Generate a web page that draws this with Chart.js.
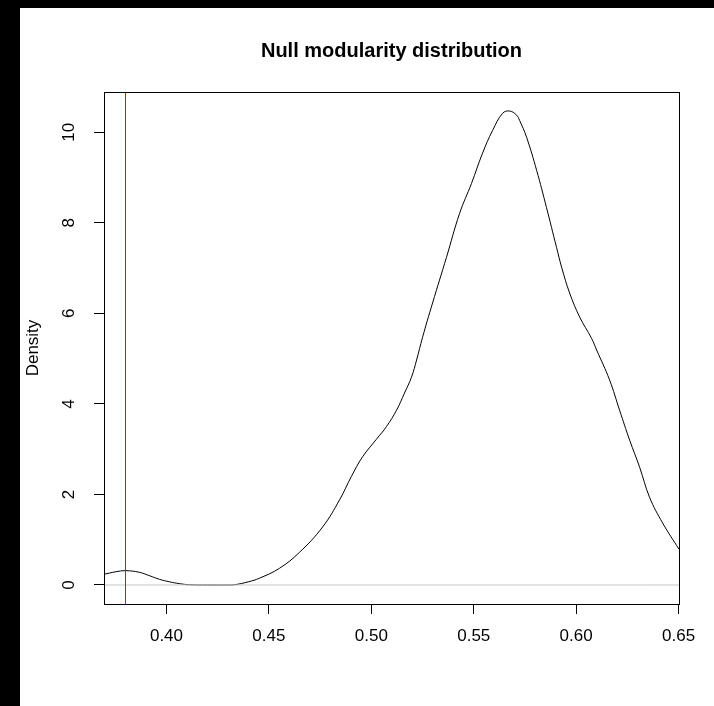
<!DOCTYPE html>
<html>
<head>
<meta charset="utf-8">
<script src="https://cdn.jsdelivr.net/npm/chart.js@4"></script>
<style>
  html, body { margin: 0; padding: 0; background: #000; width: 714px; height: 706px; overflow: hidden; }
  #wrap { position: absolute; left: 20px; top: 8px; width: 694px; height: 698px; background: #fff; }
  canvas { display: block; }
</style>
</head>
<body>
<div id="wrap"><canvas id="c" width="694" height="698"></canvas></div>
<script>
// ---- data ----
const chartTitle = 'Null modularity distribution';
const yAxisTitle = 'Density';
const observedModularity = 0.38;
const densityX = [0.3695, 0.3750, 0.3801, 0.3868, 0.3920, 0.3966, 0.4015, 0.4063, 0.4112, 0.4200, 0.4300, 0.4332,
  0.4400, 0.4454, 0.4552, 0.4649, 0.4762, 0.4845, 0.4903, 0.4957, 0.5025, 0.5074, 0.5123, 0.5162, 0.5196, 0.5221,
  0.5250, 0.5299, 0.5367, 0.5431, 0.5489, 0.5543, 0.5592, 0.5641, 0.5675, 0.5709, 0.5724, 0.5758, 0.5807, 0.5855,
  0.5904, 0.5929, 0.5968, 0.6017, 0.6075, 0.6100, 0.6163, 0.6212, 0.6261, 0.6310, 0.6358, 0.6422, 0.6502];
const densityY = [0.236, 0.29, 0.316, 0.28, 0.20, 0.125, 0.07, 0.03, 0.005, 0.0, 0.0, 0.005,
  0.07, 0.15, 0.37, 0.72, 1.28, 1.88, 2.40, 2.83, 3.22, 3.50, 3.86, 4.24, 4.59, 4.97,
  5.47, 6.23, 7.24, 8.21, 8.87, 9.54, 10.04, 10.42, 10.47, 10.38, 10.26, 9.89, 9.16, 8.34,
  7.46, 7.02, 6.45, 5.92, 5.45, 5.19, 4.53, 3.86, 3.20, 2.60, 1.94, 1.37, 0.79];
const xTicks = [0.40, 0.45, 0.50, 0.55, 0.60, 0.65];
const xTickLabels = ['0.40', '0.45', '0.50', '0.55', '0.60', '0.65'];
const yTicks = [0, 2, 4, 6, 8, 10];
const yTickLabels = ['0', '2', '4', '6', '8', '10'];
const xRange = [0.3695, 0.6502];
const yRange = [-0.42, 10.89];

// ---- chart ----
const FONT = 'Arial, "Liberation Sans", sans-serif';
const densityPoints = densityX.map((x, i) => ({ x: x, y: densityY[i] }));
const observedPoints = [{ x: observedModularity, y: yRange[0] }, { x: observedModularity, y: yRange[1] }];
const zeroPoints = [{ x: xRange[0], y: 0 }, { x: xRange[1], y: 0 }];

const boxAndTitle = {
  id: 'boxAndTitle',
  afterDraw(chart) {
    const { ctx, chartArea: a } = chart;
    ctx.save();
    ctx.strokeStyle = '#000';
    ctx.lineWidth = 1;
    ctx.strokeRect(Math.round(a.left) + 0.5, Math.round(a.top) + 0.5,
      Math.round(a.right - a.left), Math.round(a.bottom - a.top));
    ctx.fillStyle = '#000';
    ctx.font = 'bold 20px ' + FONT;
    ctx.textAlign = 'center';
    ctx.textBaseline = 'alphabetic';
    ctx.fillText(chartTitle, (a.left + a.right) / 2, 49);
    ctx.restore();
  }
};

new Chart(document.getElementById('c'), {
  type: 'scatter',
  data: {
    datasets: [
      {
        label: 'observed',
        data: observedPoints,
        showLine: true,
        borderColor: '#ff0000', backgroundColor: '#ff0000',
        borderWidth: 1, pointRadius: 0, fill: false, tension: 0, order: 0
      },
      {
        label: 'zero',
        data: zeroPoints,
        showLine: true,
        borderColor: '#c8c8c8', backgroundColor: '#c8c8c8',
        borderWidth: 1, pointRadius: 0, fill: false, tension: 0, order: 1
      },
      {
        label: 'density',
        data: densityPoints,
        showLine: true,
        borderColor: '#000000', backgroundColor: '#000000',
        borderWidth: 1, pointRadius: 0, fill: false, tension: 0.4, order: 2
      }
    ]
  },
  options: {
    responsive: false,
    animation: false,
    events: [],
    layout: { padding: { left: 0, right: 35, top: 84, bottom: 0 } },
    plugins: { legend: { display: false }, tooltip: { enabled: false }, title: { display: false } },
    scales: {
      x: {
        type: 'linear',
        min: xRange[0], max: xRange[1],
        afterFit(scale) { scale.height = 102; },
        afterBuildTicks(scale) { scale.ticks = xTicks.map(v => ({ value: v })); },
        border: { display: false },
        grid: { display: true, drawOnChartArea: false, drawTicks: true, tickLength: 10, color: '#000', lineWidth: 1 },
        ticks: {
          color: '#000', font: { family: FONT, size: 17 }, padding: 12, maxRotation: 0, autoSkip: false,
          callback: (v, i) => xTickLabels[i]
        }
      },
      y: {
        type: 'linear',
        min: yRange[0], max: yRange[1],
        afterFit(scale) { scale.width = 84; },
        afterBuildTicks(scale) { scale.ticks = yTicks.map(v => ({ value: v })); },
        border: { display: false },
        grid: { display: true, drawOnChartArea: false, drawTicks: true, tickLength: 10, color: '#000', lineWidth: 1 },
        ticks: {
          color: '#000', font: { family: FONT, size: 17 }, padding: 15, minRotation: 90, maxRotation: 90,
          crossAlign: 'center', autoSkip: false,
          callback: (v, i) => yTickLabels[i]
        },
        title: { display: true, text: yAxisTitle, color: '#000', font: { family: FONT, size: 17 }, padding: { top: 3, bottom: 0 } }
      }
    }
  },
  plugins: [boxAndTitle]
});
</script>
</body>
</html>
